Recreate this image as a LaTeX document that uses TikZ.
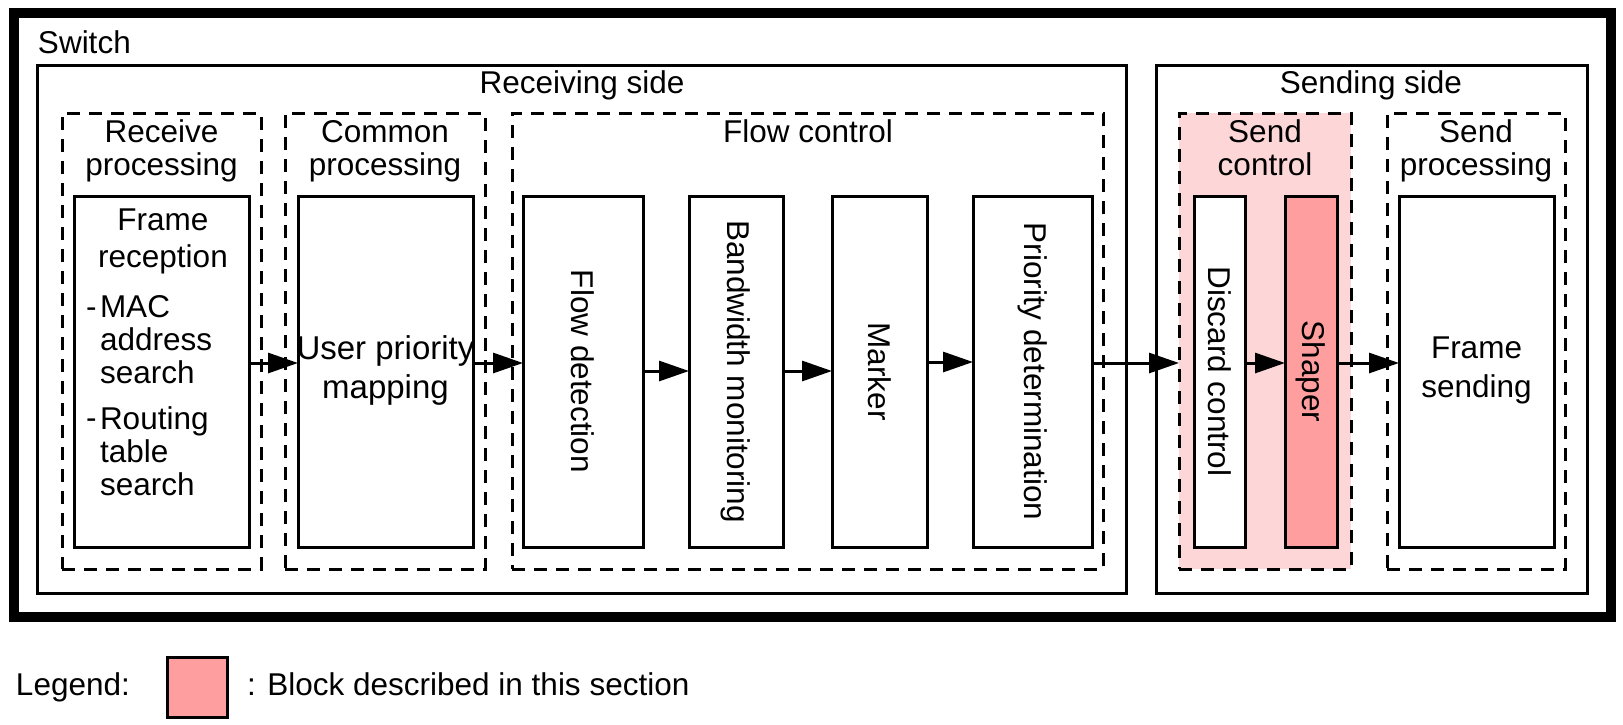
\documentclass[tikz,border=0pt]{standalone}
\usepackage{fontspec}
\setmainfont{Liberation Sans}
\usetikzlibrary{fit,arrows.meta}
\definecolor{lightpink}{RGB}{253,215,215}
\definecolor{darkpink}{RGB}{255,158,158}
\newcommand\lblfont{\fontsize{15.75pt}{16.5pt}\selectfont}
\begin{document}
\begin{tikzpicture}[x=0.5pt,y=-0.5pt,
  every node/.style={inner sep=0pt, outer sep=0pt},
  solidbox/.style={draw, line width=1.5pt},
  groupbox/.style={draw, line width=1.5pt, dash pattern=on 6.5pt off 4.5pt},
  lbl/.style={font=\lblfont, align=center, anchor=base},
  lblw/.style={font=\lblfont, align=left, anchor=base west},
  rot/.style={font=\lblfont, rotate=-90},
  arr/.style={line width=1.5pt, -{Triangle[length=15pt,width=10pt]}}
]
\useasboundingbox (0,0) rectangle (1623,724);

% outer switch frame
\node[draw, line width=5.25pt, fit={(14,13) (1611,617)}] (sw) {};
\node[lblw] (swl) at (38,53) {Switch};

% sides
\node[solidbox, fit={(37,65) (1126,593)}] (rs) {};
\node[solidbox, fit={(1156,65) (1587,593)}] (ss) {};
\node[lbl] (rsl) at (582,93) {Receiving side};
\node[lbl] (ssl) at (1371,93) {Sending side};

% groups
\node[groupbox, fit={(62,113) (261,569)}] (rp) {};
\node[groupbox, fit={(285,113) (485,569)}] (cp) {};
\node[groupbox, fit={(512,113) (1103,569)}] (fc) {};
\node[groupbox, fill=lightpink, fit={(1179,113) (1351,569)}] (sc) {};
\node[groupbox, fit={(1387,113) (1565,569)}] (sp) {};

% (base anchor of a multi-line node = baseline of its last line)
\node[lbl] (rpl) at (161.5,175) {Receive\\processing};
\node[lbl] (cpl) at (385,175) {Common\\processing};
\node[lbl] (fcl) at (808,142) {Flow control};
\node[lbl] (scl) at (1265,175) {Send\\control};
\node[lbl] (spl) at (1476,175) {Send\\processing};

% blocks
\node[solidbox, fill=white, fit={(74,196) (249,547)}] (fr) {};
\node[solidbox, fill=white, fit={(298,196) (473,547)}] (up) {};
\node[solidbox, fill=white, fit={(523,196) (643,547)}] (fd) {};
\node[solidbox, fill=white, fit={(689,196) (783,547)}] (bw) {};
\node[solidbox, fill=white, fit={(832,196) (927,547)}] (mk) {};
\node[solidbox, fill=white, fit={(973,196) (1092,547)}] (pd) {};
\node[solidbox, fill=white, fit={(1194,196) (1245,547)}] (dc) {};
\node[solidbox, fill=darkpink, fit={(1285,196) (1337,547)}] (sh) {};
\node[solidbox, fill=white, fit={(1399,196) (1554,547)}] (fs) {};

% block texts
\node[lbl, font=\fontsize{15.75pt}{18.5pt}\selectfont] (frl) at (163,267) {Frame\\reception};
\node[lblw] (d1) at (86,317) {-};
\node[lblw] (macl) at (100,383) {MAC\\address\\search};
\node[lblw] (d2) at (86,428) {-};
\node[lblw] (rtl) at (100,495) {Routing\\table\\search};
\node[lbl, font=\fontsize{16.5pt}{19.5pt}\selectfont] (upl) at (385.5,398) {User priority\\mapping};
\node[rot] (fdl) at (fd.center) {Flow detection};
\node[rot] (bwl) at (bw.center) {Bandwidth monitoring};
\node[rot] (mkl) at (mk.center) {Marker};
\node[rot] (pdl) at (pd.center) {Priority determination};
\node[rot] (dcl) at (dc.center) {Discard control};
\node[rot] (shl) at (sh.center) {Shaper};
\node[lbl, font=\fontsize{15.75pt}{19.5pt}\selectfont] (fsl) at (1476.5,397) {Frame\\sending};

% arrows
\coordinate (ya) at (0,363);
\coordinate (yb) at (0,371);
\coordinate (yc) at (0,362);
\draw[arr] (fr.east |- ya) -- (up.west |- ya);
\draw[arr] (up.east |- ya) -- (fd.west |- ya);
\draw[arr] (fd.east |- yb) -- (bw.west |- yb);
\draw[arr] (bw.east |- yb) -- (mk.west |- yb);
\draw[arr] (mk.east |- yc) -- (pd.west |- yc);
\draw[arr] (pd.east |- ya) -- (sc.west |- ya);
\draw[arr] (dc.east |- ya) -- (sh.west |- ya);
\draw[arr] (sh.east |- ya) -- (fs.west |- ya);

% legend
\node[lblw] (lgl) at (16,695) {Legend:};
\node[solidbox, fill=darkpink, fit={(167,657) (227,717)}] (lg) {};
\node[lblw] (lgt) at (247,695) {: Block described in this section};
\end{tikzpicture}
\end{document}
